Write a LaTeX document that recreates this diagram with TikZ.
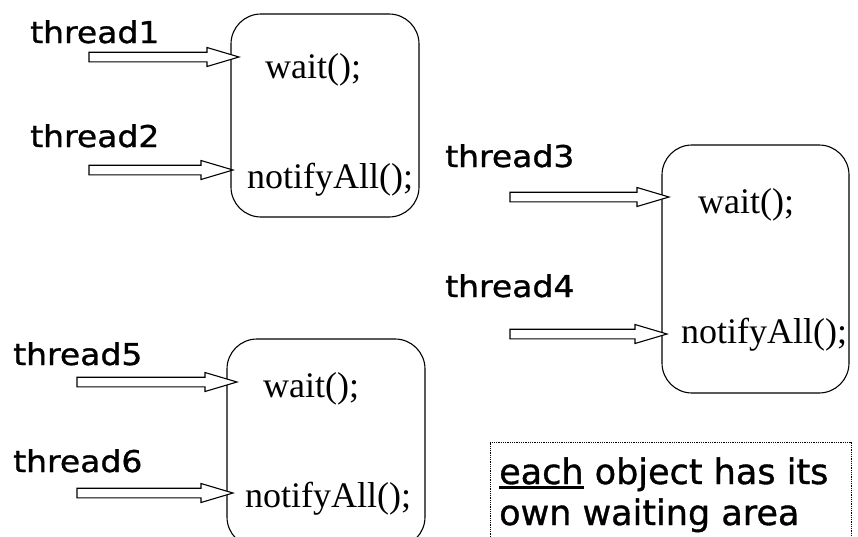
\documentclass[tikz,border=0pt]{standalone}
\usepackage{fontspec}
\setmainfont{Liberation Serif}
\newfontfamily\comic[FakeStretch=1.1,FakeBold=1]{DejaVu Sans}
\newfontfamily\comicn[FakeBold=1]{DejaVu Sans}
\usetikzlibrary{calc}
\newcommand{\blockarrow}[2]{%
  \draw[blockarr] let \p1=(#1), \p2=(#2) in
    (\x1,\y1+4.8pt) -- (\x2-32pt,\y1+4.8pt) -- (\x2-32pt,\y1+9.5pt) -- (\x2,\y2)
    -- (\x2-32pt,\y1-9.5pt) -- (\x2-32pt,\y1-4.8pt) -- (\x1,\y1-4.8pt) -- cycle;}
\newcommand{\thickul}[1]{\leavevmode\setbox0=\hbox{#1}\rlap{\rule[-5pt]{\wd0}{2.8pt}}\box0\relax}
\begin{document}
\begin{tikzpicture}[x=1pt,y=-1pt,
  objbox/.style={draw, line width=1.1pt, rounded corners=30pt, inner sep=0pt},
  notebox/.style={draw, line width=0.9pt, dash pattern=on 0.9pt off 0.9pt, inner sep=0pt},
  thr/.style={anchor=base west, inner sep=0pt, font=\comic\fontsize{30}{36}\selectfont},
  meth/.style={anchor=base west, inner sep=0pt, font=\fontsize{36}{40}\selectfont},
  notetext/.style={anchor=base west, inner sep=0pt, font=\comicn\fontsize{35}{40}\selectfont},
  blockarr/.style={draw, line width=1.1pt, fill=white, line join=miter}
]
\useasboundingbox (0,0) rectangle (858,536);
\clip (0,0) rectangle (858,536);

% object boxes
\node[objbox, minimum width=188pt, minimum height=203pt] (box1) at (325,115.5) {};
\node[objbox, minimum width=187pt, minimum height=248pt] (box2) at (755.5,269) {};
\node[objbox, minimum width=198pt, minimum height=208pt] (box3) at (326,443) {};

% method texts
\node[meth] (w1) at (265,78) {wait();};
\node[meth] (n1) at (247,188) {notifyAll();};
\node[meth] (w2) at (698,213) {wait();};
\node[meth] (n2) at (681,343) {notifyAll();};
\node[meth] (w3) at (263,397) {wait();};
\node[meth] (n3) at (245,507) {notifyAll();};

% thread labels
\node[thr] (t1) at (30,43) {thread1};
\node[thr] (t2) at (30,147) {thread2};
\node[thr] (t3) at (445,167) {thread3};
\node[thr] (t4) at (445,297) {thread4};
\node[thr] (t5) at (13,365) {thread5};
\node[thr] (t6) at (13,472) {thread6};

% arrow end points
\coordinate (a1s) at (89,57);  \coordinate (a1e) at (239,57);
\coordinate (a2s) at (89,170); \coordinate (a2e) at (233,170);
\coordinate (a3s) at (510,197); \coordinate (a3e) at (669,197);
\coordinate (a4s) at (510,334); \coordinate (a4e) at (667,334);
\coordinate (a5s) at (77,382); \coordinate (a5e) at (237,382);
\coordinate (a6s) at (77,493); \coordinate (a6e) at (233,493);
\blockarrow{a1s}{a1e}
\blockarrow{a2s}{a2e}
\blockarrow{a3s}{a3e}
\blockarrow{a4s}{a4e}
\blockarrow{a5s}{a5e}
\blockarrow{a6s}{a6e}

% note
\node[notebox, minimum width=361pt, minimum height=118pt] (note) at (670.5,501) {};
\node[notetext] (note1) at (499,484) {\thickul{each} object has its};
\node[notetext] (note2) at (499,525) {own waiting area};
\end{tikzpicture}
\end{document}
